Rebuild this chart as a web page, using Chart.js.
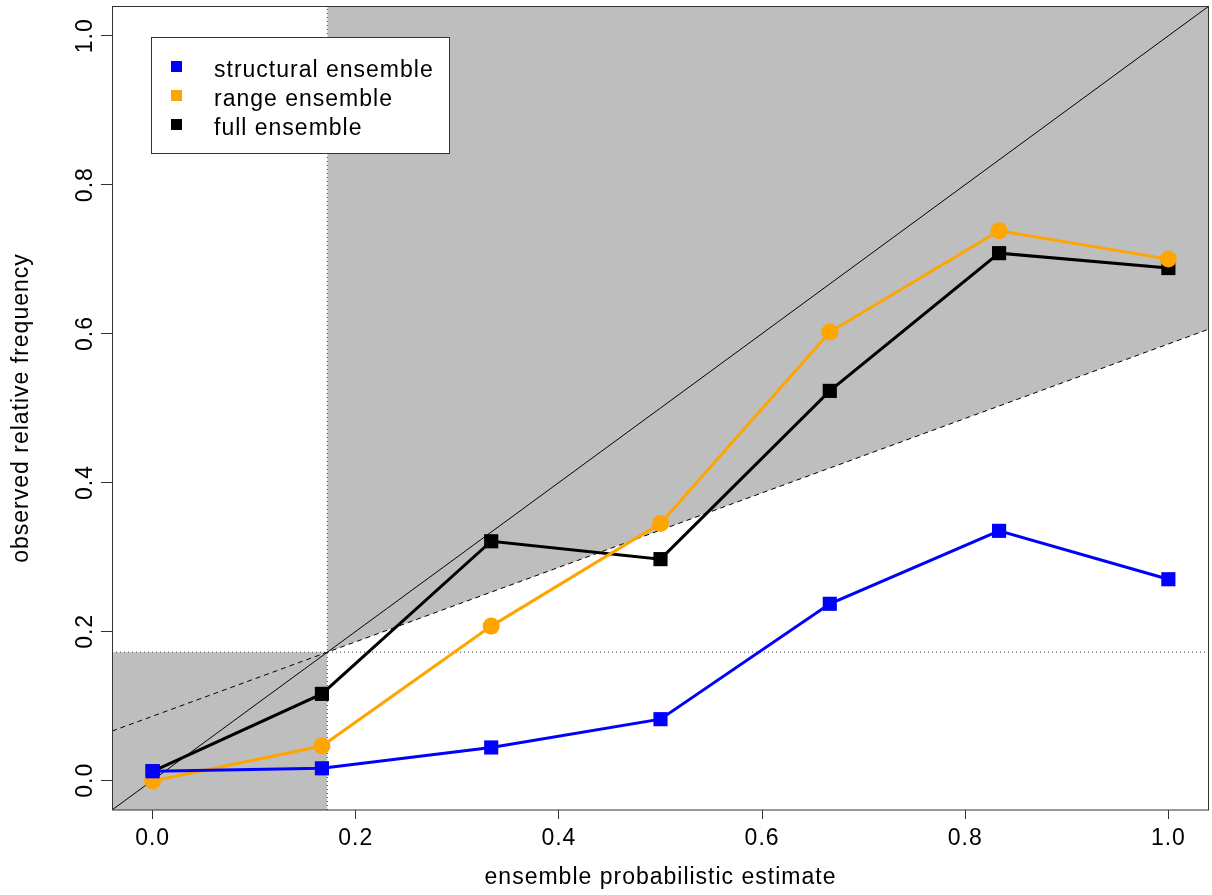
<!DOCTYPE html>
<html>
<head>
<meta charset="utf-8">
<script src="https://cdn.jsdelivr.net/npm/chart.js@4.4.1/dist/chart.umd.min.js"></script>
<style>
  html, body { margin: 0; padding: 0; background: #fff; }
  #wrap { width: 1212px; height: 895px; }
</style>
</head>
<body>
<div id="wrap"><canvas id="myChart" width="1212" height="895"></canvas></div>
<script>
// forecast probability bins (k/6)
const probBins = [0, 1/6, 2/6, 3/6, 4/6, 5/6, 1];

// observed relative frequency per bin
const structuralFreq = [0.012, 0.016, 0.044, 0.082, 0.237, 0.335, 0.270];
const rangeFreq      = [-0.001, 0.046, 0.207, 0.345, 0.602, 0.738, 0.700];
const fullFreq       = [0.012, 0.116, 0.321, 0.297, 0.523, 0.708, 0.688];

const seriesNames  = ['structural ensemble', 'range ensemble', 'full ensemble'];
const seriesColors = ['#0000FF', '#FFA500', '#000000'];

// climatological frequency (no-resolution line) and axis limits
const climate = 0.172;
const axisMin = -0.04;
const axisMax = 1.04;
const tickValues = [0, 0.2, 0.4, 0.6, 0.8, 1.0];

const FONT = '"Liberation Sans", Arial, sans-serif';
const GRAY = '#BEBEBE';

function toPoints(xs, ys) {
    return xs.map(function(x, i) { return { x: x, y: ys[i] }; });
}

// no-skill line: halfway between the diagonal and climatology
function noSkill(x) { return (x + climate) / 2; }

// draws tick labels, axis titles, legend and the frame
const decorPlugin = {
    id: 'decor',
    afterDraw: function(chart) {
        const ctx = chart.ctx;
        const area = chart.chartArea;
        const xScale = chart.scales.x;
        const yScale = chart.scales.y;
        ctx.save();

        // frame around the plot region
        ctx.strokeStyle = '#333';
        ctx.lineWidth = 1;
        ctx.strokeRect(area.left + 0.5, area.top + 0.5, area.right - area.left - 1, area.bottom - area.top - 0.5);

        ctx.fillStyle = '#000';
        ctx.font = '23px ' + FONT;
        ctx.letterSpacing = '1px';
        ctx.textAlign = 'center';
        ctx.textBaseline = 'middle';

        // x tick labels
        tickValues.forEach(function(v) {
            ctx.fillText(v.toFixed(1), xScale.getPixelForValue(v), 839);
        });

        // y tick labels, rotated like R's las=0
        tickValues.forEach(function(v) {
            const py = yScale.getPixelForValue(v);
            ctx.save();
            ctx.translate(86, py);
            ctx.rotate(-Math.PI / 2);
            ctx.fillText(v.toFixed(1), 0, 0);
            ctx.restore();
        });

        // axis titles
        ctx.fillText('ensemble probabilistic estimate', (area.left + area.right) / 2, 878);
        ctx.save();
        ctx.translate(22, (area.top + area.bottom) / 2);
        ctx.rotate(-Math.PI / 2);
        ctx.fillText('observed relative frequency', 0, 0);
        ctx.restore();

        // legend box
        const lx = 151, ly = 37, lw = 298, lh = 116;
        ctx.fillStyle = '#fff';
        ctx.fillRect(lx, ly, lw, lh);
        ctx.strokeStyle = '#333';
        ctx.strokeRect(lx + 0.5, ly + 0.5, lw, lh);
        ctx.textAlign = 'left';
        ctx.textBaseline = 'alphabetic';
        seriesNames.forEach(function(name, i) {
            const cy = 66.5 + i * 29;
            ctx.fillStyle = seriesColors[i];
            ctx.fillRect(171, cy - 5.5, 11, 11);
            ctx.fillStyle = '#000';
            ctx.fillText(name, 214, cy + 10.5);
        });
        ctx.restore();
    }
};

const ctx = document.getElementById('myChart').getContext('2d');

new Chart(ctx, {
    type: 'scatter',
    data: {
        datasets: [
            {
                label: seriesNames[0],
                data: toPoints(probBins, structuralFreq),
                showLine: true,
                borderColor: seriesColors[0],
                backgroundColor: seriesColors[0],
                borderWidth: 3,
                pointStyle: 'rect',
                pointRadius: 10,
                pointBorderWidth: 0,
                order: 1
            },
            {
                label: seriesNames[1],
                data: toPoints(probBins, rangeFreq),
                showLine: true,
                borderColor: seriesColors[1],
                backgroundColor: seriesColors[1],
                borderWidth: 3,
                pointStyle: 'circle',
                pointRadius: 8.5,
                pointBorderWidth: 0,
                order: 2
            },
            {
                label: seriesNames[2],
                data: toPoints(probBins, fullFreq),
                showLine: true,
                borderColor: seriesColors[2],
                backgroundColor: seriesColors[2],
                borderWidth: 3,
                pointStyle: 'rect',
                pointRadius: 10,
                pointBorderWidth: 0,
                order: 3
            },
            // diagonal (perfect reliability)
            {
                data: [{ x: axisMin, y: axisMin }, { x: axisMax, y: axisMax }],
                showLine: true, borderColor: '#000', borderWidth: 1,
                pointRadius: 0, order: 4
            },
            // no-skill line
            {
                data: [{ x: axisMin, y: noSkill(axisMin) }, { x: axisMax, y: noSkill(axisMax) }],
                showLine: true, borderColor: '#000', borderWidth: 1, borderDash: [5, 4],
                pointRadius: 0, order: 5
            },
            // no-resolution lines (dotted)
            {
                data: [{ x: axisMin, y: climate }, { x: axisMax, y: climate }],
                showLine: true, borderColor: '#444', borderWidth: 1, borderDash: [1, 3],
                pointRadius: 0, order: 6
            },
            {
                data: [{ x: climate, y: axisMin }, { x: climate, y: axisMax }],
                showLine: true, borderColor: '#444', borderWidth: 1, borderDash: [1, 3],
                pointRadius: 0, order: 7
            },
            // skill region above the no-skill line
            {
                data: [{ x: climate, y: noSkill(climate) }, { x: axisMax, y: noSkill(axisMax) }],
                showLine: true, borderWidth: 0, borderColor: 'rgba(0,0,0,0)',
                backgroundColor: GRAY, fill: 'end', pointRadius: 0, order: 8
            },
            // skill region in the lower-left
            {
                data: [{ x: axisMin, y: climate }, { x: climate, y: climate }],
                showLine: true, borderWidth: 0, borderColor: 'rgba(0,0,0,0)',
                backgroundColor: GRAY, fill: 'start', pointRadius: 0, order: 9
            }
        ]
    },
    options: {
        responsive: false,
        animation: false,
        layout: { autoPadding: false, padding: { top: 6, right: 3, left: 0, bottom: 0 } },
        plugins: {
            legend: { display: false },
            tooltip: { enabled: false }
        },
        scales: {
            x: {
                type: 'linear',
                min: axisMin,
                max: axisMax,
                afterBuildTicks: function(scale) {
                    scale.ticks = tickValues.map(function(v) { return { value: v }; });
                },
                afterFit: function(scale) {
                    scale.height = 85;
                    scale.paddingLeft = 0;
                    scale.paddingRight = 0;
                },
                grid: { drawOnChartArea: false, drawTicks: true, tickLength: 9, color: '#333' },
                border: { display: false },
                ticks: { display: false }
            },
            y: {
                type: 'linear',
                min: axisMin,
                max: axisMax,
                afterBuildTicks: function(scale) {
                    scale.ticks = tickValues.map(function(v) { return { value: v }; });
                },
                afterFit: function(scale) {
                    scale.width = 112;
                    scale.paddingTop = 0;
                    scale.paddingBottom = 0;
                },
                grid: { drawOnChartArea: false, drawTicks: true, tickLength: 11, color: '#333' },
                border: { display: false },
                ticks: { display: false }
            }
        }
    },
    plugins: [decorPlugin]
});
</script>
</body>
</html>
